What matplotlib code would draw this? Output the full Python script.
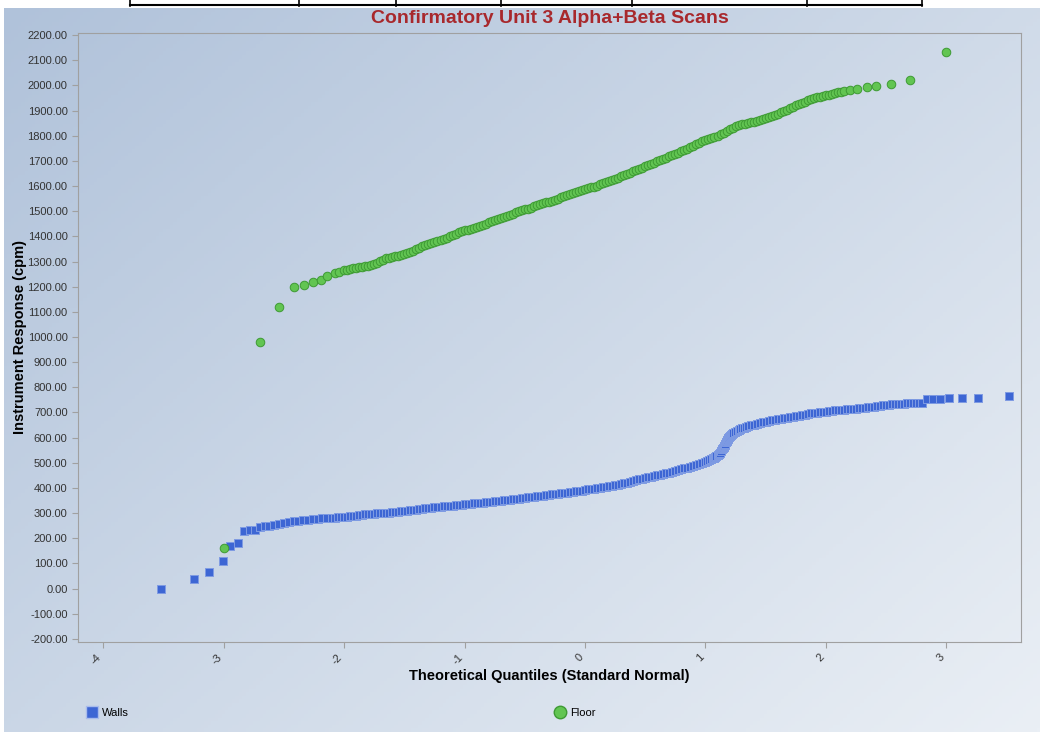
import numpy as np
import matplotlib
matplotlib.use("Agg")
import matplotlib.pyplot as plt
from matplotlib.lines import Line2D
from matplotlib.ticker import FormatStrFormatter

plt.rcParams['font.family'] = ['Liberation Sans', 'DejaVu Sans']

# ----- data -----
walls_q = [-3.52, -3.25, -3.12, -3.01, -2.95, -2.88, -2.83, -2.78, -2.74, -2.70,
           -2.66, -2.62, -2.58, -2.54, -2.50, -2.46, -2.42, -2.38, -2.34, -2.30,
           -2.26, -2.22, -2.18, -2.14,
           -2.100, -2.075, -2.050, -2.025, -2.000, -1.975, -1.950, -1.925, -1.900, -1.875,
           -1.850, -1.825, -1.800, -1.775, -1.750, -1.725, -1.700, -1.675, -1.650, -1.625,
           -1.600, -1.575, -1.550, -1.525, -1.500, -1.475, -1.450, -1.425, -1.400, -1.375,
           -1.350, -1.325, -1.300, -1.275, -1.250, -1.225, -1.200, -1.175, -1.150, -1.125,
           -1.100, -1.075, -1.050, -1.025, -1.000, -0.975, -0.950, -0.925, -0.900, -0.875,
           -0.850, -0.825, -0.800, -0.775, -0.750, -0.725, -0.700, -0.675, -0.650, -0.625,
           -0.600, -0.575, -0.550, -0.525, -0.500, -0.475, -0.450, -0.425, -0.400, -0.375,
           -0.350, -0.325, -0.300, -0.275, -0.250, -0.225, -0.200, -0.175, -0.150, -0.125,
           -0.100, -0.075, -0.050, -0.025, 0.000, 0.025, 0.050, 0.075, 0.100, 0.125,
           0.150, 0.175, 0.200, 0.225, 0.250, 0.275, 0.300, 0.325, 0.350, 0.375,
           0.400, 0.425, 0.450, 0.475, 0.500, 0.525, 0.550, 0.575, 0.600, 0.625,
           0.650, 0.675, 0.700, 0.725, 0.750, 0.775, 0.800, 0.825, 0.850, 0.875,
           0.900, 0.925, 0.950, 0.975, 1.000, 1.015, 1.030, 1.045, 1.060, 1.070,
           1.080, 1.090, 1.100, 1.110, 1.120, 1.130, 1.140, 1.145, 1.150, 1.155,
           1.160, 1.165, 1.170, 1.175, 1.180, 1.185, 1.190, 1.195, 1.200, 1.210,
           1.220, 1.230, 1.245, 1.260, 1.275, 1.290, 1.305, 1.320, 1.335, 1.350,
           1.375, 1.400, 1.425, 1.450, 1.475, 1.500, 1.525, 1.550, 1.575, 1.600,
           1.625, 1.650, 1.675, 1.700, 1.725, 1.750, 1.775, 1.800, 1.825, 1.850,
           1.875, 1.900, 1.925, 1.950, 1.975, 2.000, 2.025, 2.050, 2.075, 2.100,
           2.125, 2.150, 2.175, 2.200, 2.225, 2.250, 2.275, 2.300, 2.325, 2.350,
           2.375, 2.400, 2.425, 2.450, 2.475, 2.500, 2.525, 2.550, 2.575, 2.600,
           2.625, 2.650, 2.675, 2.700, 2.725, 2.750, 2.775, 2.800,
           2.84, 2.89, 2.95, 3.02, 3.13, 3.26, 3.52]
walls_cpm = [0, 40, 67, 110, 170, 180, 229, 233, 235, 244,
             247, 250, 254, 257, 261, 265, 267, 269, 271, 273,
             275, 277, 279, 280,
             282, 282, 283, 284, 285, 286, 287, 289, 290, 292,
             293, 295, 296, 297, 298, 299, 300, 301, 302, 302,
             303, 304, 305, 307, 308, 310, 311, 313, 314, 316,
             317, 319, 320, 322, 323, 325, 326, 327, 328, 329,
             330, 332, 333, 334, 335, 336, 337, 339, 340, 341,
             342, 344, 345, 346, 347, 349, 350, 351, 352, 354,
             355, 357, 358, 360, 361, 363, 364, 366, 367, 369,
             370, 372, 373, 375, 376, 378, 379, 381, 382, 384,
             385, 387, 388, 390, 392, 394, 395, 397, 399, 401,
             403, 405, 407, 409, 411, 413, 415, 418, 420, 424,
             427, 431, 434, 437, 440, 443, 445, 448, 450, 453,
             456, 459, 461, 464, 467, 471, 474, 478, 481, 485,
             489, 493, 497, 501, 505, 508, 511, 515, 518, 521,
             525, 528, 532, 536, 540, 546, 553, 557, 562, 566,
             571, 576, 581, 585, 590, 594, 599, 603, 606, 612,
             616, 619, 623, 627, 631, 634, 637, 640, 643, 645,
             649, 652, 656, 659, 662, 664, 667, 669, 672, 674,
             676, 678, 680, 682, 684, 686, 688, 690, 692, 694,
             696, 697, 699, 700, 702, 703, 705, 706, 708, 709,
             710, 711, 712, 713, 714, 715, 716, 717, 719, 720,
             722, 723, 725, 726, 728, 729, 731, 732, 733, 734,
             735, 735, 736, 736, 737, 737, 738, 739,
             754, 753, 755, 756, 758, 758, 766]

floor_q = [-3.00, -2.70, -2.54, -2.42, -2.33, -2.26, -2.19, -2.14, -2.08, -2.04,
           -2.000, -1.975, -1.950, -1.925, -1.900, -1.875, -1.850, -1.825, -1.800, -1.775,
           -1.750, -1.725, -1.700, -1.675, -1.650, -1.625, -1.600, -1.575, -1.550, -1.525,
           -1.500, -1.475, -1.450, -1.425, -1.400, -1.375, -1.350, -1.325, -1.300, -1.275,
           -1.250, -1.225, -1.200, -1.175, -1.150, -1.125, -1.100, -1.075, -1.050, -1.025,
           -1.000, -0.975, -0.950, -0.925, -0.900, -0.875, -0.850, -0.825, -0.800, -0.775,
           -0.750, -0.725, -0.700, -0.675, -0.650, -0.625, -0.600, -0.575, -0.550, -0.525,
           -0.500, -0.475, -0.450, -0.425, -0.400, -0.375, -0.350, -0.325, -0.300, -0.275,
           -0.250, -0.225, -0.200, -0.175, -0.150, -0.125, -0.100, -0.075, -0.050, -0.025,
           0.000, 0.025, 0.050, 0.075, 0.100, 0.125, 0.150, 0.175, 0.200, 0.225,
           0.250, 0.275, 0.300, 0.325, 0.350, 0.375, 0.400, 0.425, 0.450, 0.475,
           0.500, 0.525, 0.550, 0.575, 0.600, 0.625, 0.650, 0.675, 0.700, 0.725,
           0.750, 0.775, 0.800, 0.825, 0.850, 0.875, 0.900, 0.925, 0.950, 0.975,
           1.000, 1.025, 1.050, 1.075, 1.100, 1.125, 1.150, 1.175, 1.200, 1.225,
           1.250, 1.275, 1.300, 1.325, 1.350, 1.375, 1.400, 1.425, 1.450, 1.475,
           1.500, 1.525, 1.550, 1.575, 1.600, 1.625, 1.650, 1.675, 1.700, 1.725,
           1.750, 1.775, 1.800, 1.825, 1.850, 1.875, 1.900, 1.925, 1.950, 1.975,
           2.000, 2.025, 2.050, 2.075, 2.100, 2.125, 2.150,
           2.20, 2.26, 2.34, 2.42, 2.54, 2.70, 3.00]
floor_cpm = [162, 980, 1119, 1199, 1207, 1219, 1227, 1242, 1254, 1259,
             1265, 1268, 1270, 1273, 1276, 1278, 1280, 1281, 1282, 1285,
             1290, 1296, 1302, 1307, 1312, 1315, 1318, 1320, 1322, 1326,
             1330, 1334, 1338, 1343, 1348, 1354, 1360, 1364, 1368, 1373,
             1378, 1382, 1386, 1390, 1395, 1400, 1405, 1411, 1416, 1420,
             1424, 1427, 1430, 1434, 1438, 1442, 1446, 1450, 1455, 1460,
             1465, 1470, 1474, 1478, 1482, 1486, 1490, 1495, 1500, 1504,
             1507, 1510, 1514, 1519, 1524, 1528, 1532, 1535, 1538, 1542,
             1546, 1550, 1555, 1559, 1563, 1568, 1572, 1576, 1580, 1584,
             1588, 1592, 1595, 1598, 1602, 1606, 1610, 1614, 1618, 1623,
             1628, 1633, 1638, 1643, 1648, 1653, 1658, 1663, 1668, 1673,
             1678, 1683, 1688, 1693, 1698, 1703, 1708, 1713, 1718, 1723,
             1728, 1733, 1738, 1743, 1748, 1754, 1760, 1766, 1772, 1777,
             1782, 1787, 1792, 1796, 1800, 1806, 1812, 1819, 1826, 1832,
             1838, 1842, 1846, 1848, 1850, 1853, 1856, 1859, 1862, 1866,
             1870, 1874, 1878, 1883, 1888, 1893, 1898, 1904, 1910, 1915,
             1920, 1925, 1930, 1935, 1940, 1944, 1948, 1952, 1955, 1958,
             1960, 1962, 1965, 1968, 1972, 1975, 1978,
             1982, 1985, 1993, 1997, 2005, 2021, 2134]

x_ticks = [-4, -3, -2, -1, 0, 1, 2, 3]
y_ticks = list(range(-200, 2201, 100))

title = "Confirmatory Unit 3 Alpha+Beta Scans"
# -----------------------------------

fig = plt.figure(figsize=(10.48, 7.32), dpi=100, facecolor='white')

# gradient background of the chart image
bg = fig.add_axes([4 / 1048, 0, 1036 / 1048, 724 / 732], zorder=-10)
u = np.linspace(0, 1, 300)
v = np.linspace(0, 1, 200)
U, V = np.meshgrid(u, v)
t = np.clip(0.55 * U + 0.45 * V, 0, 1)[..., None]
c0 = np.array([176, 194, 218]) / 255
c1 = np.array([234, 239, 245]) / 255
bg.imshow(c0 * (1 - t) + c1 * t, aspect='auto', extent=[0, 1, 0, 1], origin='upper')
bg.axis('off')

# table border lines at the very top
for xp in [130, 299, 396, 501, 632, 807, 922]:
    fig.add_artist(Line2D([xp / 1048, xp / 1048], [1, 1 - 6 / 732], color='black', lw=1.2))
fig.add_artist(Line2D([130 / 1048, 922 / 1048], [1 - 5 / 732, 1 - 5 / 732], color='black', lw=1.5))

ax = fig.add_axes([78 / 1048, 1 - 642 / 732, 943 / 1048, 609 / 732])
ax.set_facecolor('none')

ax.scatter(walls_q, walls_cpm, marker='s', s=38, facecolor='#3d66d4',
           edgecolor='#7f9be3', linewidth=0.7, zorder=3)
ax.scatter(floor_q, floor_cpm, marker='o', s=38, facecolor='#62c552',
           edgecolor='#3e9a34', linewidth=0.7, zorder=4)

ax.set_xlim(-4.21, 3.62)
ax.set_ylim(-212, 2208)
ax.set_xticks(x_ticks)
ax.set_yticks(y_ticks)
ax.yaxis.set_major_formatter(FormatStrFormatter('%.2f'))
ax.set_xticklabels([str(x) for x in x_ticks], rotation=45, ha='right', va='top')

for s in ax.spines.values():
    s.set_color('#a0a0a0')
ax.tick_params(axis='both', colors='#a0a0a0', labelcolor='#333333',
               labelsize=8, length=4, width=0.8)

ax.set_title(title, color='#a8282c', fontsize=14, fontweight='bold', pad=7)
ax.set_xlabel("Theoretical Quantiles (Standard Normal)", fontsize=10.5,
              fontweight='bold', va='center')
ax.xaxis.set_label_coords(0.5, -34 / 609)
ax.set_ylabel("Instrument Response (cpm)", fontsize=10.5, fontweight='bold',
              va='center')
ax.yaxis.set_label_coords(-58 / 943, 0.5)

# legend entries, one at the left and one in the middle
h_walls = Line2D([], [], marker='s', ls='none', markersize=9,
                 markerfacecolor='#3d66d4', markeredgecolor='#a9bcec', label='Walls')
h_floor = Line2D([], [], marker='o', ls='none', markersize=9,
                 markerfacecolor='#62c552', markeredgecolor='#3e9a34', label='Floor')
fig.legend(handles=[h_walls], loc='center left', bbox_to_anchor=(75 / 1048, 1 - 713 / 732),
           frameon=False, fontsize=8, handletextpad=0.3, handlelength=1.2)
fig.legend(handles=[h_floor], loc='center left', bbox_to_anchor=(543 / 1048, 1 - 713 / 732),
           frameon=False, fontsize=8, handletextpad=0.3, handlelength=1.2)

fig.savefig('out.png', dpi=100, facecolor=fig.get_facecolor())
